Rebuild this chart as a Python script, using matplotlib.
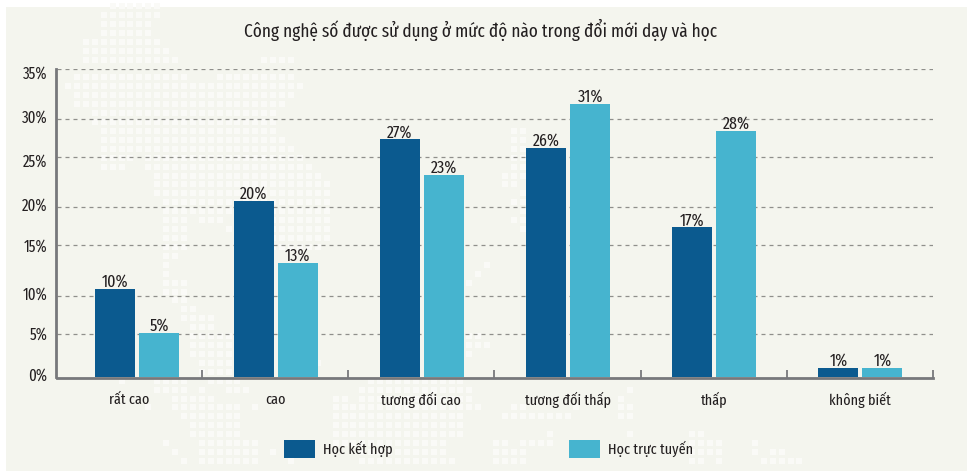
import matplotlib
matplotlib.use("Agg")
import matplotlib.pyplot as plt
from matplotlib.patches import Rectangle
from matplotlib.collections import PatchCollection
from matplotlib.transforms import ScaledTranslation

# ---- data ----
title = "Công nghệ số được sử dụng ở mức độ nào trong đổi mới dạy và học"
categories = ["rất cao", "cao", "tương đối cao", "tương đối thấp", "thấp", "không biết"]
series_names = ["Học kết hợp", "Học trực tuyến"]
blended = [10, 20, 27, 26, 17, 1]
online = [5, 13, 23, 31, 28, 1]
tick_values = [0, 5, 10, 15, 20, 25, 30, 35]
tick_labels = ["0%", "5%", "10%", "15%", "20%", "25%", "30%", "35%"]

# the source draws its dashed rules slightly off the tick values
rule_levels = [4.9, 9.25, 15, 19.3, 25, 29.3, 35]
tick_label_nudge_px = [3, 0, -4, 0, -3, -3, -3, -3]
group_shift = [7.5 / 146, 0, 0, 0, 0, 0]

# background dotted world map: (row, first column, last column)
map_runs = [
    (-1,5,10),(0,4,10),(1,4,9),(2,4,9),(3,2,10),(4,2,11),(5,2,12),(5,22,25),
    (7,1,13),(7,17,25),(8,0,26),(9,1,25),(10,1,24),(11,3,23),(12,3,23),(13,4,23),
    (14,4,24),(15,4,25),(16,4,7),(16,9,26),(17,4,6),(17,9,27),(18,10,28),(19,10,29),
    (20,10,29),(21,11,29),(22,11,29),(23,11,13),(23,15,17),(23,23,29),(24,11,13),
    (24,18,29),(25,11,13),(25,23,29),(26,11,13),(26,23,28),(27,11,12),(28,11,11),
    (29,11,11),(30,11,13),(31,11,13),(32,12,13),(33,13,14),(34,13,16),(35,14,16),
    (36,14,18),(37,14,18),(38,14,18),(39,15,18),(39,28,28),(40,15,18),
    (41,6,6),(41,10,13),(41,16,19),(41,34,44),
    (42,10,13),(42,15,15),(42,18,20),(42,33,45),(42,63,63),
    (43,12,16),(43,30,31),(43,33,45),(43,62,62),
    (44,9,9),(44,12,19),(44,21,21),(44,30,46),(44,50,51),(44,57,57),(44,62,63),
    (45,13,19),(45,30,44),(45,49,56),(45,62,63),
    (46,14,19),(46,30,44),(47,14,19),(47,30,44),(47,54,54),(47,63,63),(47,70,71),
    (48,11,11),(48,15,21),(48,30,42),(48,48,49),(48,51,54),(48,70,73),(48,77,77),
    (49,12,12),(49,15,21),(49,23,23),(49,33,42),(49,48,51),(49,70,73),(49,77,77),(49,79,80),
    (50,13,13),(50,15,21),(50,25,25),(50,33,43),(50,48,51),(50,70,71),(50,73,73),(50,78,82),
    (13,50,51),(14,50,51),(15,50,51),(16,50,51),(17,50,51),(18,49,51),(19,49,50),
    (20,51,51),(21,50,51),(22,51,51),(23,50,51),(24,51,51),
    (28,47,47),(29,46,46),(30,45,45),(36,45,46),(37,45,47),(38,45,45),
]

# ---- style ----
W, H = 967, 471
DARK, LIGHT = "#0B5A8F", "#46B4CF"
BG, DOT = "#F4F5EE", "#FAFAF7"
INK, AXIS, RULE = "#231F20", "#77787B", "#8F8F8B"
plt.rcParams["font.family"] = ["Fira Sans Extra Condensed", "Encode Sans Condensed", "DejaVu Sans"]
FS_VALUE, FS_TICK, FS_CAT, FS_LEG = 12.5, 11.6, 11.1, 11.1


def box(l, t, r, b):
    return [l / W, 1 - b / H, (r - l) / W, (b - t) / H]


fig = plt.figure(figsize=(W / 100, H / 100), dpi=100, facecolor="white")

# background panel and dots, in pixel coordinates
bg = fig.add_axes([0, 0, 1, 1], zorder=0)
bg.set_xlim(0, W)
bg.set_ylim(H, 0)
bg.axis("off")
bg.add_patch(Rectangle((6, 7), W - 6, H - 7, fc=BG, ec="none"))
squares = []
for row, c0, c1 in map_runs:
    for col in range(c0, c1 + 1):
        squares.append(Rectangle((65 + 8.92 * col, 12 + 8.92 * row), 6, 6))
dots = PatchCollection(squares, facecolor=DOT, edgecolor="none")
dots.set_clip_path(bg.patches[0])
bg.add_collection(dots)

# main plot
ax = fig.add_axes(box(57, 69, 933, 377), zorder=1)
ax.patch.set_alpha(0)
ax.set_xlim(-72 / 146, 5 + 73 / 146)
ax.set_ylim(0, 35)

for level in rule_levels:
    ax.axhline(level, color=RULE, lw=0.9, dashes=(3.2, 3.2), zorder=1)

width = 40 / 146
xs = [i + s for i, s in enumerate(group_shift)]
bars_a = ax.bar([x - 21.5 / 146 for x in xs], blended, width, color=DARK, zorder=3, label=series_names[0])
bars_b = ax.bar([x + 22.5 / 146 for x in xs], online, width, color=LIGHT, zorder=3, label=series_names[1])
for bars, vals in ((bars_a, blended), (bars_b, online)):
    for rect, v in zip(bars, vals):
        ax.annotate(f"{v}%", (rect.get_x() + rect.get_width() / 2, v), xytext=(0, 1.5),
                    textcoords="offset points", ha="center", va="baseline",
                    fontsize=FS_VALUE, color=INK, zorder=4)

for side in ("top", "right"):
    ax.spines[side].set_visible(False)
for side in ("left", "bottom"):
    ax.spines[side].set_color(AXIS)
    ax.spines[side].set_linewidth(2.0)
ax.spines["bottom"].set_position(("outward", 1))
ax.spines["left"].set_position(("outward", 0.5))

# group separators rising from the axis
ax.set_xticks([i + 0.5 for i in range(6)], minor=True)
ax.tick_params(axis="x", which="minor", direction="in", length=5.5, width=1.3, color=AXIS, pad=0)
ax.set_xticks(range(6), categories)
ax.tick_params(axis="x", which="major", length=0, pad=10, labelsize=FS_CAT, labelcolor=INK)
ax.set_yticks(tick_values, tick_labels)
ax.tick_params(axis="y", length=0, pad=6.5, labelsize=FS_TICK, labelcolor=INK)
for lab, nudge in zip(ax.get_yticklabels(), tick_label_nudge_px):
    lab.set_transform(lab.get_transform() + ScaledTranslation(0, nudge / 100, fig.dpi_scale_trans))

fig.text(480.5 / W, 1 - 30 / H, title, ha="center", va="center", fontsize=13.5, color=INK)

leg = fig.legend(handles=[bars_a, bars_b], labels=series_names, loc="lower left",
                 bbox_to_anchor=(284 / W, 1 - 458 / H), ncol=2, frameon=False,
                 fontsize=FS_LEG, labelcolor=INK, borderpad=0, borderaxespad=0,
                 handlelength=31 * 0.72 / FS_LEG, handleheight=22 * 0.72 / FS_LEG,
                 handletextpad=8 * 0.72 / FS_LEG, columnspacing=176 * 0.72 / FS_LEG)

fig.savefig("out.png", dpi=100, facecolor="white")
